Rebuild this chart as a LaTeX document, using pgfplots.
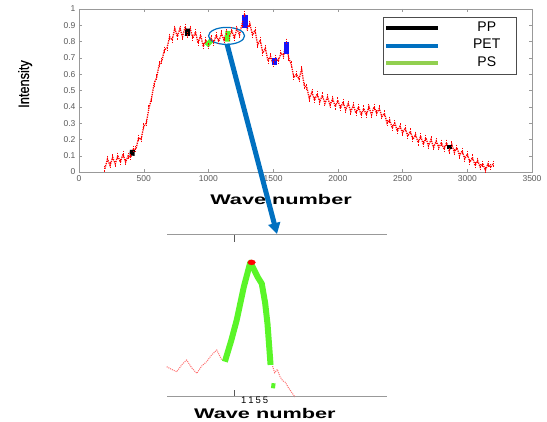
\documentclass[border=0pt]{standalone}
\usepackage{pgfplots}
\pgfplotsset{compat=1.18}
\usetikzlibrary{arrows.meta}
\usepackage{fontspec}
\setmainfont{Liberation Sans}
\newfontfamily\condfont{Liberation Sans}[FakeStretch=0.85, FakeBold=0.6]
\newfontfamily\widefont{Liberation Sans}[FakeStretch=1.55]
\definecolor{petblue}{RGB}{0,112,192}
\definecolor{psgreen}{RGB}{146,208,80}
\definecolor{brightgreen}{RGB}{90,245,40}
\definecolor{mblue}{RGB}{20,20,250}
\definecolor{pinkred}{RGB}{255,110,110}
\begin{document}
\begin{tikzpicture}[x=1pt,y=1pt]
\useasboundingbox (0,0) rectangle (547,422);
\begin{axis}[
  at={(79pt,250pt)}, anchor=south west, scale only axis,
  width=453pt, height=163pt,
  xmin=0, xmax=3500, ymin=0, ymax=1,
  xtick={0,500,1000,1500,2000,2500,3000,3500},
  ytick={0,0.1,0.2,0.3,0.4,0.5,0.6,0.7,0.8,0.9,1},
  yticklabels={0,0.1,0.2,0.3,0.4,0.5,0.6,0.7,0.8,0.9,1},
  /pgf/number format/1000 sep={},
  tick align=inside, major tick length=3pt,
  axis line style={black!40}, tick style={black!40},
  ticklabel style={font=\fontsize{8.5}{9}\selectfont, text=black!65},
  /pgf/number format/assume math mode=true,
  xlabel={Wave number},
  xlabel style={font=\widefont\bfseries\fontsize{14}{14}\selectfont, at={(axis description cs:0.446,-0.166)}, anchor=center},
  ylabel={Intensity},
  ylabel style={font=\condfont\fontsize{15}{15}\selectfont, at={(axis description cs:-0.119,0.54)}, anchor=center},
  legend style={at={(0.671,0.951)}, anchor=north west, draw=black!70, line width=0.6pt,
    inner xsep=1pt, inner ysep=4pt, row sep=3.5pt, column sep=18pt,
    font=\fontsize{14}{14}\selectfont,
    nodes={text width=55pt, align=center, inner sep=1pt, text height=9pt, text depth=3pt}},
  legend image code/.code={\draw[#1, line width=4pt] (0pt,0pt) -- (52pt,0pt);},
]
\addlegendimage{black}\addlegendentry{PP}
\addlegendimage{petblue}\addlegendentry{PET}
\addlegendimage{psgreen}\addlegendentry{PS}
\addplot[red, densely dotted, line width=1.3pt, forget plot, mark=|, mark size=3pt, mark options={densely dotted, line width=0.9pt}] coordinates {
(200,0.02)(220,0.08)(240,0.04)(260,0.09)(280,0.05)(300,0.10)(320,0.06)(340,0.11)(360,0.06)(380,0.10)
(400,0.09)(420,0.14)(440,0.14)(460,0.21)(480,0.20)(500,0.28)(520,0.30)(540,0.39)(560,0.45)(580,0.54)
(600,0.58)(620,0.66)(640,0.68)(660,0.75)(680,0.76)(700,0.83)(720,0.81)(740,0.88)(760,0.83)(780,0.88)
(800,0.83)(820,0.89)(840,0.84)(860,0.88)(880,0.82)(900,0.86)(920,0.79)(940,0.84)(960,0.77)(980,0.81)
(1000,0.77)(1020,0.82)(1040,0.79)(1060,0.84)(1080,0.80)(1100,0.85)(1120,0.81)(1140,0.86)(1160,0.82)(1180,0.87)
(1200,0.82)(1220,0.88)(1240,0.84)(1260,0.91)(1280,0.97)(1300,0.88)(1320,0.91)(1340,0.84)(1360,0.87)(1380,0.78)
(1400,0.81)(1420,0.73)(1440,0.76)(1460,0.68)(1480,0.71)(1500,0.66)(1520,0.70)(1540,0.68)(1560,0.73)(1580,0.71)
(1600,0.80)(1620,0.70)(1640,0.66)(1660,0.58)(1680,0.60)(1700,0.57)(1720,0.63)(1740,0.53)(1760,0.52)(1780,0.45)
(1800,0.49)(1820,0.44)(1840,0.48)(1860,0.43)(1880,0.47)(1900,0.42)(1920,0.46)(1940,0.41)(1960,0.45)(1980,0.40)
(2000,0.44)(2020,0.39)(2040,0.43)(2060,0.38)(2080,0.42)(2100,0.37)(2120,0.41)(2140,0.36)(2160,0.40)(2180,0.35)
(2200,0.39)(2220,0.35)(2240,0.40)(2260,0.35)(2280,0.40)(2300,0.36)(2320,0.39)(2340,0.34)(2360,0.36)(2380,0.30)
(2400,0.32)(2420,0.27)(2440,0.30)(2460,0.25)(2480,0.28)(2500,0.24)(2520,0.27)(2540,0.22)(2560,0.25)(2580,0.20)
(2600,0.23)(2620,0.18)(2640,0.22)(2660,0.17)(2680,0.21)(2700,0.16)(2720,0.20)(2740,0.15)(2760,0.19)(2780,0.15)
(2800,0.18)(2820,0.14)(2840,0.18)(2860,0.13)(2880,0.17)(2900,0.12)(2920,0.15)(2940,0.10)(2960,0.13)(2980,0.08)
(3000,0.11)(3020,0.06)(3040,0.09)(3060,0.04)(3080,0.07)(3100,0.03)(3120,0.05)(3140,0.01)(3160,0.05)(3180,0.03)
(3200,0.05)};
% PP markers
\addplot[black, line width=5pt, forget plot] coordinates {(410,0.10)(412,0.135)};
\addplot[black, line width=5pt, forget plot] coordinates {(838,0.835)(840,0.88)};
\addplot[black, line width=4pt, forget plot] coordinates {(2845,0.155)(2880,0.155)};
% PET markers
\addplot[mblue, line width=5.5pt, forget plot] coordinates {(1282,0.885)(1282,0.965)};
\addplot[mblue, line width=5.5pt, forget plot] coordinates {(1510,0.656)(1510,0.70)};
\addplot[mblue, line width=5.5pt, forget plot] coordinates {(1603,0.725)(1603,0.80)};
% PS markers
\addplot[brightgreen, line width=5pt, forget plot] coordinates {(985,0.775)(1025,0.81)};
\addplot[brightgreen, line width=5pt, forget plot] coordinates {(1148,0.80)(1150,0.865)};
\draw[petblue, line width=1.2pt] (axis cs:1140,0.835) ellipse [x radius=18pt, y radius=8.5pt];
\end{axis}

\begin{axis}[
  at={(167pt,25pt)}, anchor=south west, scale only axis,
  width=220pt, height=162pt,
  xmin=1135, xmax=1200, ymin=0, ymax=1,
  axis x line=box, axis y line=none,
  xtick={1155}, xticklabels={1\hspace{2pt}1\hspace{2pt}5\hspace{2pt}5},
  ytick=\empty,
  tick align=inside, major tick length=7pt,
  axis line style={black!40, line width=1pt}, tick style={black!65, line width=1.2pt},
  xticklabel style={font=\fontsize{9.5}{9.5}\selectfont, xshift=20pt, inner sep=1pt, yshift=1pt},
  xlabel={Wave number},
  xlabel style={font=\widefont\bfseries\fontsize{14}{14}\selectfont, at={(axis description cs:0.445,-0.104)}, anchor=center},
  ylabel={Intensity},
  ylabel style={font=\condfont\fontsize{15}{15}\selectfont, at={(axis description cs:-0.145,0.512)}, anchor=center},
  clip=false,
]
\addplot[pinkred, densely dotted, line width=1pt] coordinates {
(1134.9,0.187)(1136.4,0.17)(1137.9,0.156)(1139.4,0.20)(1140.8,0.228)(1142.3,0.18)(1143.8,0.146)
(1145.2,0.19)(1146.7,0.218)(1148.2,0.26)(1149.7,0.29)(1151.2,0.228)};
\addplot[pinkred, densely dotted, line width=1pt] coordinates {
(1166.2,0.19)(1166.8,0.15)(1167.6,0.17)(1168.4,0.125)(1169.2,0.10)(1170.0,0.09)(1170.8,0.06)(1171.8,0.03)(1172.8,0.0)};
\addplot[brightgreen, line width=6pt, line join=round] coordinates {
(1152.1,0.218)(1154.0,0.35)(1155.6,0.475)(1157.7,0.68)(1159.6,0.83)(1160.4,0.80)(1161.8,0.74)(1163.0,0.70)(1164.0,0.58)(1164.7,0.45)(1165.6,0.198)};
\addplot[brightgreen, line width=4pt] coordinates {(1166.3,0.054)(1166.5,0.085)};
\addplot[only marks, mark=*, red, mark size=2.5pt, mark options={xscale=1.5, draw=red}] coordinates {(1160.0,0.831)};
\end{axis}

\draw[petblue, line width=5pt, -{Triangle[length=11pt,width=12pt]}] (227,378) -- (277,188);
\end{tikzpicture}
\end{document}
